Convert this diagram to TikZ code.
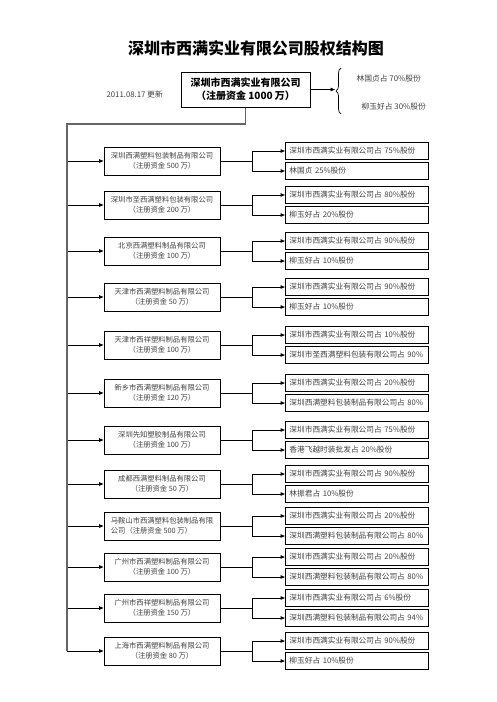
\documentclass[tikz,border=0pt]{standalone}
\usepackage{fontspec}
\setmainfont{Noto Sans CJK SC}
\usetikzlibrary{arrows.meta,decorations.pathreplacing}

\begin{document}
\begin{tikzpicture}[x=1pt,y=-1pt,
        boss/.style={draw,line width=1pt,minimum width=129pt,minimum height=35pt,align=center,font=\bfseries\fontsize{10}{13}\selectfont},
        firm/.style={draw,line width=0.8pt,minimum width=116pt,minimum height=28pt,font=\fontsize{7.3}{10}\selectfont,text=black!75},
        share/.style={draw,line width=0.8pt,anchor=west,text width=135pt,align=left,inner xsep=4pt,minimum height=17pt,font=\fontsize{7.7}{9}\selectfont,text=black!75},
        note/.style={anchor=west,font=\fontsize{7.8}{9}\selectfont,text=black!75},
        link/.style={line width=0.9pt,-{Triangle[length=4.5pt,width=3.5pt]}},
        trunk/.style={line width=1.2pt,black!60}]
    \useasboundingbox (0,0) rectangle (496,702);
    \node [font=\bfseries\fontsize{16}{19}\selectfont] (title) at (256,48) {深圳市西满实业有限公司股权结构图};
    \node [boss] (boss) at (245.5,89.5) {深圳市西满实业有限公司\\（注册资金 1000 万）};
    \node [note] (date) at (103,95) {2011.08.17 更新};
    % owners of the parent company
    \coordinate (tip) at (335,89.5);
    \coordinate (blow) at (341,114);
    \coordinate (bhigh) at (341,68);
    \draw [link] (boss.east) -- (tip);
    \draw [line width=0.7pt,decorate,decoration={brace,amplitude=5pt}] (blow) -- (bhigh);
    \node [note] (own1) at (353,79) {林国贞占 70\%股份};
    \node [note] (own2) at (358,107) {柳玉好占 30\%股份};
    % subsidiaries
    \foreach \y/\name/\cap/\al/\sa/\sb [count=\i] in {
        161/深圳西满塑料包装制品有限公司/（注册资金 500 万）/center/深圳市西满实业有限公司占 75\%股份/林国贞 25\%股份,
        205/深圳市圣西满塑料包装有限公司/（注册资金 200 万）/center/深圳市西满实业有限公司占 80\%股份/柳玉好占 20\%股份,
        251/北京西满塑料制品有限公司/（注册资金 100 万）/center/深圳市西满实业有限公司占 90\%股份/柳玉好占 10\%股份,
        297/天津市西满塑料制品有限公司/（注册资金 50 万）/center/深圳市西满实业有限公司占 90\%股份/柳玉好占 10\%股份,
        345/天津市西祥塑料制品有限公司/（注册资金 100 万）/center/深圳市西满实业有限公司占 10\%股份/深圳市圣西满塑料包装有限公司占 90\%,
        393/新乡市西满塑料制品有限公司/（注册资金 120 万）/center/深圳市西满实业有限公司占 20\%股份/深圳西满塑料包装制品有限公司占 80\%,
        440/深圳先知塑胶制品有限公司/（注册资金 100 万）/center/深圳市西满实业有限公司占 75\%股份/香港飞越时装批发占 20\%股份,
        484/成都西满塑料制品有限公司/（注册资金 50 万）/center/深圳市西满实业有限公司占 90\%股份/林振君占 10\%股份,
        526/马鞍山市西满塑料包装制品有限/公司（注册资金 500 万）/left/深圳市西满实业有限公司占 20\%股份/深圳西满塑料包装制品有限公司占 80\%,
        567/广州市西满塑料制品有限公司/（注册资金 100 万）/center/深圳市西满实业有限公司占 20\%股份/深圳西满塑料包装制品有限公司占 80\%,
        608/广州市西祥塑料制品有限公司/（注册资金 150 万）/center/深圳市西满实业有限公司占 6\%股份/深圳西满塑料包装制品有限公司占 94\%,
        651/上海市西满塑料制品有限公司/（注册资金 80 万）/center/深圳市西满实业有限公司占 90\%股份/柳玉好占 10\%股份}
    {
        \node [firm,align=\al] (f\i) at (162,\y) {\name\\\cap};
        \coordinate (t\i) at (67,\y);
        \coordinate (s\i) at (252,\y);
        \node [share] (a\i) at (285,\y-10) {\sa};
        \node [share] (b\i) at (285,\y+10) {\sb};
        \draw [link] (t\i) -- (f\i);
        \draw [line width=0.9pt] (f\i) -- (s\i);
        \draw [link] (s\i) |- (a\i);
        \draw [link] (s\i) |- (b\i);
    }
    \coordinate (bend) at (67,124);
    \draw [trunk] (boss.south) |- (bend) -- (t12);
\end{tikzpicture}
\end{document}
